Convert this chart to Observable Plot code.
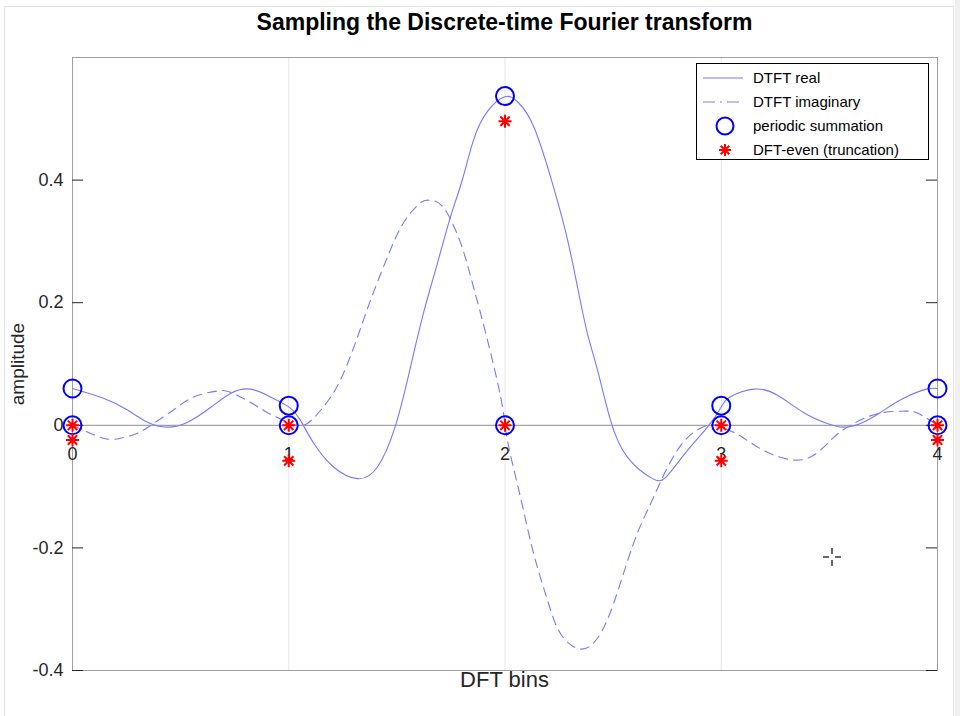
<!DOCTYPE html>
<html>
<head>
<meta charset="utf-8">
<script src="https://cdn.jsdelivr.net/npm/d3@7"></script>
<script src="https://cdn.jsdelivr.net/npm/@observablehq/plot@0.6"></script>
<style>
  body { margin: 0; background: #fff; }
  #fig { position: relative; width: 960px; height: 716px; overflow: hidden; background: #fff;
         font-family: "Liberation Sans", Arial, Helvetica, sans-serif; }
  #border { position: absolute; left: 4px; top: 6px; width: 950px; height: 720px; border: 1px solid #e4e4e4; box-sizing: border-box; }
  #rband { position: absolute; left: 955px; top: 0; width: 5px; height: 716px; background: #efefef; }
  #chart { position: absolute; left: 0; top: 0; }
  #title { position: absolute; left: 72px; width: 865px; top: 11px; line-height: 1; font-size: 23px; font-weight: bold; text-align: center; color: #000; }
  #xlabel { position: absolute; left: 72px; width: 865px; top: 669px; line-height: 1; font-size: 22px; text-align: center; color: #262626; }
  #ylabel { position: absolute; left: 17px; top: 364px; line-height: 1; font-size: 19px; color: #262626; white-space: nowrap;
            transform: translate(-50%, -50%) rotate(-90deg); }
  #legend { position: absolute; left: 696px; top: 63px; }
  #cursor { position: absolute; left: 821px; top: 546px; }
</style>
</head>
<body>
<div id="fig">
  <div id="border"></div>
  <div id="rband"></div>
  <div id="chart"></div>
  <div id="title">Sampling the Discrete-time Fourier transform</div>
  <div id="xlabel">DFT bins</div>
  <div id="ylabel">amplitude</div>
  <svg id="legend" width="234" height="98" font-family="Liberation Sans, Arial, sans-serif" font-size="15">
    <rect x="0.5" y="0.5" width="232" height="96" fill="#fff" stroke="#000" stroke-width="1"/>
    <line x1="7" x2="47" y1="15" y2="15" stroke="#7878ff" stroke-width="1.1"/>
    <text x="57" y="15" dy="0.35em" fill="#000">DTFT real</text>
    <line x1="7" x2="47" y1="39" y2="39" stroke="#7878ff" stroke-width="1.1" stroke-dasharray="12,5,2,5"/>
    <text x="57" y="39" dy="0.35em" fill="#000">DTFT imaginary</text>
    <circle cx="29" cy="63" r="8.5" fill="none" stroke="#0000ff" stroke-width="2"/>
    <text x="57" y="63" dy="0.35em" fill="#000">periodic summation</text>
    <g stroke="#ff0000" stroke-width="2" transform="translate(29,87)">
      <line x1="-6" x2="6" y1="0" y2="0"/><line x1="0" x2="0" y1="-6" y2="6"/>
      <line x1="-4.3" x2="4.3" y1="-4.3" y2="4.3"/><line x1="-4.3" x2="4.3" y1="4.3" y2="-4.3"/>
    </g>
    <text x="57" y="87" dy="0.35em" fill="#000">DFT-even (truncation)</text>
  </svg>
  <svg id="cursor" width="22" height="22">
    <g stroke="#000" stroke-width="1.2">
      <line x1="11" x2="11" y1="2" y2="8"/><line x1="11" x2="11" y1="14" y2="20"/>
      <line x1="2" x2="8" y1="11" y2="11"/><line x1="14" x2="20" y1="11" y2="11"/>
    </g>
  </svg>
</div>
<script>
// ---- data ----
const realX = [0, 0.143, 0.254, 0.347, 0.439, 0.532, 0.638, 0.731, 0.823, 0.916, 1.0, 1.054, 1.115, 1.207, 1.318, 1.41, 1.494, 1.563, 1.623, 1.688, 1.748, 1.803, 1.855, 1.919, 2.0, 2.06, 2.133, 2.224, 2.289, 2.335, 2.381, 2.428, 2.488, 2.566, 2.682, 2.751, 2.844, 2.936, 3.0, 3.04, 3.15, 3.26, 3.38, 3.49, 3.565, 3.644, 3.736, 3.843, 3.95, 4.0];
const realY = [0.060, 0.044, 0.025, 0.005, -0.003, 0.005, 0.029, 0.052, 0.059, 0.046, 0.030, 0.008, -0.029, -0.068, -0.087, -0.068, 0.0, 0.095, 0.183, 0.265, 0.340, 0.401, 0.466, 0.512, 0.536, 0.527, 0.487, 0.389, 0.303, 0.226, 0.150, 0.090, 0.008, -0.052, -0.087, -0.082, -0.041, -0.003, 0.030, 0.046, 0.059, 0.049, 0.021, 0.003, -0.003, 0.003, 0.021, 0.044, 0.059, 0.060];

const imagX = [0, 0.143, 0.222, 0.30, 0.375, 0.467, 0.56, 0.67, 0.73, 0.82, 0.90, 0.976, 1.03, 1.086, 1.16, 1.239, 1.318, 1.378, 1.457, 1.53, 1.609, 1.655, 1.716, 1.794, 1.854, 1.919, 1.98, 2.0, 2.025, 2.072, 2.133, 2.197, 2.257, 2.349, 2.428, 2.502, 2.594, 2.673, 2.751, 2.844, 2.936, 2.975, 3.024, 3.10, 3.196, 3.32, 3.427, 3.519, 3.584, 3.658, 3.75, 3.843, 3.907, 4.0];
const imagY = [0.0, -0.021, -0.021, -0.013, 0.003, 0.025, 0.046, 0.056, 0.054, 0.038, 0.021, 0.008, 0.0, 0.003, 0.030, 0.074, 0.144, 0.204, 0.275, 0.330, 0.363, 0.367, 0.355, 0.298, 0.226, 0.139, 0.046, 0.0, -0.048, -0.118, -0.210, -0.286, -0.340, -0.365, -0.347, -0.291, -0.193, -0.128, -0.069, -0.020, 0.0, 0.0, -0.006, -0.020, -0.041, -0.056, -0.049, -0.020, -0.003, 0.011, 0.021, 0.023, 0.020, 0.0];

const bins = [0, 1, 2, 3, 4];
const periodicReal = [0.060, 0.032, 0.537, 0.032, 0.060];
const periodicImag = [0, 0, 0, 0, 0];
const dftReal = [-0.024, -0.058, 0.496, -0.058, -0.024];
const dftImag = [0, 0, 0, 0, 0];

const yTicks = [-0.4, -0.2, 0, 0.2, 0.4];
const xTicks = [0, 1, 2, 3, 4];

// ---- tables ----
const realPts = realX.map((x, i) => ({x, y: realY[i]}));
const imagPts = imagX.map((x, i) => ({x, y: imagY[i]}));
const circles = bins.flatMap((b, i) => [{x: b, y: periodicReal[i]}, {x: b, y: periodicImag[i]}]);
const stars = bins.flatMap((b, i) => [{x: b, y: dftReal[i]}, {x: b, y: dftImag[i]}]);

// MATLAB-style 8-arm asterisk
const asterisk = {
  draw(ctx, size) {
    const r = Math.sqrt(size / Math.PI);
    const d = r * 0.72;
    ctx.moveTo(-r, 0); ctx.lineTo(r, 0);
    ctx.moveTo(0, -r); ctx.lineTo(0, r);
    ctx.moveTo(-d, -d); ctx.lineTo(d, d);
    ctx.moveTo(-d, d); ctx.lineTo(d, -d);
  }
};

const lineColor = "#7878ff";

const chart = Plot.plot({
  width: 960,
  height: 716,
  marginLeft: 72,
  marginRight: 23,
  marginTop: 57,
  marginBottom: 46,
  x: {domain: [0, 4], axis: null},
  y: {domain: [-0.4, 0.6], axis: null},
  style: {fontFamily: "Liberation Sans, Arial, sans-serif", background: "transparent", overflow: "visible"},
  marks: [
    Plot.ruleX([1, 2, 3], {stroke: "#e6e6e6", strokeWidth: 1}),
    Plot.ruleY([0], {stroke: "#8c8c8c", strokeWidth: 1}),
    Plot.frame({stroke: "#a0a0a0", strokeWidth: 1}),
    Plot.axisY({ticks: yTicks, tickSize: 0, tickPadding: 9, fontSize: 18, fill: "#262626",
                tickFormat: d => d === 0 ? "0" : d.toFixed(1), label: null}),
    Plot.ruleY(yTicks, {x1: 0, x2: 0.051, stroke: "#262626", strokeWidth: 1}),
    Plot.ruleY(yTicks, {x1: 3.949, x2: 4, stroke: "#262626", strokeWidth: 1}),
    Plot.text(xTicks, {x: d => d, y: () => 0, dy: 29, text: d => String(d), fontSize: 18, fill: "#262626"}),
    Plot.line(realPts, {x: "x", y: "y", stroke: lineColor, strokeWidth: 1.1, curve: "natural"}),
    Plot.line(imagPts, {x: "x", y: "y", stroke: lineColor, strokeWidth: 1.1, strokeDasharray: "9,6", curve: "natural"}),
    Plot.dot(circles, {x: "x", y: "y", r: 9, stroke: "#0000ff", strokeWidth: 2, fill: "none"}),
    Plot.dot(stars, {x: "x", y: "y", r: 6.5, symbol: asterisk, stroke: "#ff0000", strokeWidth: 2, fill: "none"})
  ]
});
document.getElementById("chart").appendChild(chart);
</script>
</body>
</html>
